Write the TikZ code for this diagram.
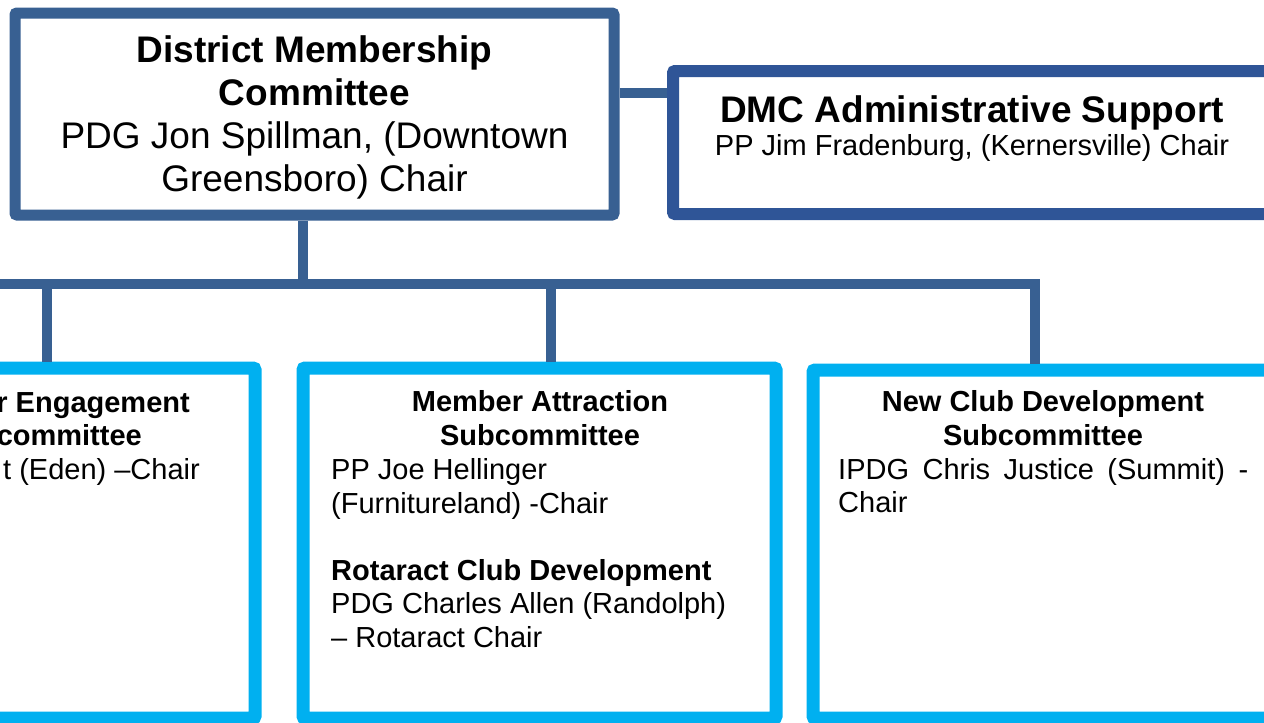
\documentclass[tikz,border=0pt]{standalone}
\usepackage{fontspec}
\setmainfont{Liberation Sans}

\definecolor{dmcblue}{RGB}{56,96,146}
\definecolor{adminblue}{RGB}{47,85,151}
\definecolor{subblue}{RGB}{0,176,240}

\newcommand\dmcfont{\fontsize{37}{42.7}\selectfont}
\newcommand\subfont{\fontsize{29}{33.5}\selectfont}

\tikzset{
	dmcbox/.style={draw=dmcblue,line width=11pt,fill=white,rounded corners=2pt,inner sep=0pt},
	adminbox/.style={draw=adminblue,line width=12pt,fill=white,rounded corners=2pt,inner sep=0pt},
	subbox/.style={draw=subblue,line width=13pt,fill=white,rounded corners=2pt,inner sep=0pt},
	link/.style={draw=dmcblue,line width=10pt},
	txt/.style={inner sep=0pt,anchor=base}
}

\begin{document}
\begin{tikzpicture}[x=1pt,y=-1pt]
	\useasboundingbox (0,0) rectangle (1264,723);
	\clip (0,0) rectangle (1264,723);

	\node[dmcbox,minimum width=599pt,minimum height=202pt] (dmc) at (314.5,114) {};
	\node[adminbox,minimum width=598pt,minimum height=143pt] (admin) at (972,142.5) {};
	\node[subbox,minimum width=422pt,minimum height=350pt] (engage) at (44,543) {};
	\node[subbox,minimum width=473pt,minimum height=350pt] (attract) at (539.5,543) {};
	\node[subbox,minimum width=460pt,minimum height=348pt] (newclub) at (1043,544) {};

	\coordinate (hub) at (303,284);
	\coordinate (busL) at (-20,284);
	\coordinate (busR) at (1035,284);
	\coordinate (D1) at (47,284);
	\coordinate (D2) at (551,284);

	\draw[link]([yshift=21pt]dmc.east) -- ([yshift=21pt]dmc.east -| admin.west);
	\draw[link](hub |- dmc.south) -- (hub);
	\draw[link](busL) -- (busR) -- (busR |- newclub.north);
	\draw[link](D1) -- (D1 |- engage.north);
	\draw[link](D2) -- (D2 |- attract.north);

	\node[txt,align=center,font=\dmcfont] (dmctext) at (314.5,191)
		{\textbf{District Membership}\\\textbf{Committee}\\PDG Jon Spillman, (Downtown\\Greensboro) Chair};

	\node[txt,font=\dmcfont\bfseries] (admintitle) at (972,122) {DMC Administrative Support};
	\node[txt,font=\subfont] (adminchair) at (972,155) {PP Jim Fradenburg, (Kernersville) Chair};

	\node[txt,anchor=base east,font=\subfont\bfseries] (engagetitleA) at (190,412) {r Engagement};
	\node[txt,anchor=base east,font=\subfont\bfseries] (engagetitleB) at (142,445) {committee};
	\node[txt,anchor=base east,font=\subfont] (engagechair) at (200,479) {t (Eden) –Chair};

	\node[txt,align=center,font=\subfont\bfseries] (attracttitle) at (540,445)
		{Member Attraction\\Subcommittee};
	\node[txt,anchor=base west,align=left,font=\subfont] (attractchair) at (331,647)
		{PP Joe Hellinger\\(Furnitureland) -Chair\\[33.5pt]\textbf{Rotaract Club Development}\\PDG Charles Allen (Randolph)\\– Rotaract Chair};

	\node[txt,align=center,font=\subfont\bfseries] (newclubtitle) at (1043,445)
		{New Club Development\\Subcommittee};
	\node[txt,anchor=base west,text width=410pt,align=justify,font=\subfont] (newclubchair) at (838,479)
		{IPDG Chris Justice (Summit) - Chair};
\end{tikzpicture}
\end{document}
